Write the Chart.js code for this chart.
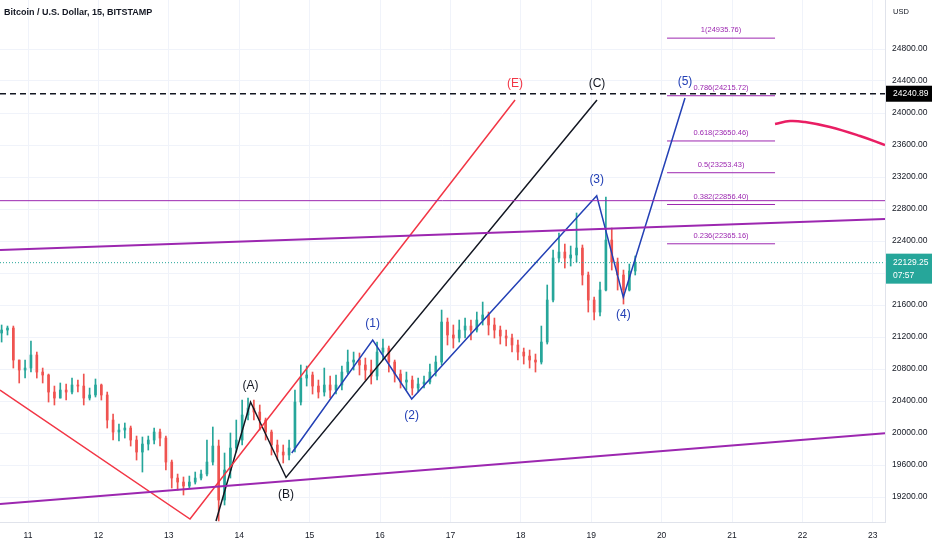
<!DOCTYPE html>
<html>
<head>
<meta charset="utf-8">
<script src="https://cdn.jsdelivr.net/npm/chart.js@4.4.0/dist/chart.umd.min.js"></script>
<style>
  html, body { margin: 0; padding: 0; background: #fff; }
</style>
</head>
<body>
<canvas id="chart" width="932" height="550"></canvas>
<script>
// --- candles (2h bars, days of Feb), open = previous close
const firstOpen = 21250;
const startDay = 10.625;
const stepDay = 1 / 12;
const closes = [21287, 21312, 20912, 20787, 20812, 20975, 20762, 20725, 20512, 20437,
  20537, 20512, 20600, 20587, 20437, 20475, 20600, 20475, 20162, 20012,
  20037, 20062, 19912, 19762, 19862, 19912, 20012, 19937, 19637, 19437,
  19387, 19337, 19387, 19437, 19487, 19637, 19837, 19162, 19537, 19812,
  19912, 20225, 20312, 20262, 20162, 20012, 19850, 19762, 19725, 19812,
  20387, 20687, 20725, 20587, 20512, 20600, 20537, 20600, 20762, 20887,
  20912, 20850, 20787, 20712, 21012, 21062, 20887, 20737, 20637, 20662,
  20562, 20612, 20637, 20762, 20887, 21387, 21225, 21187, 21287, 21337,
  21287, 21412, 21475, 21350, 21287, 21212, 21187, 21100, 21012, 20962,
  20912, 20887, 21137, 21662, 22187, 22262, 22187, 22225, 22312, 21975,
  21662, 21512, 21787, 22412, 22137, 21975, 21787, 22025, 22129.25];
const highs = [21350, 21337, 21337, 20912, 20912, 21150, 21012, 20812, 20737, 20587,
  20625, 20612, 20687, 20662, 20737, 20562, 20675, 20612, 20512, 20237,
  20112, 20125, 20087, 19962, 19950, 19962, 20062, 20050, 19962, 19662,
  19487, 19450, 19462, 19512, 19537, 19912, 20075, 19912, 19750, 20000,
  20162, 20412, 20437, 20412, 20350, 20187, 20037, 19912, 19850, 19912,
  20537, 20850, 20837, 20762, 20662, 20812, 20712, 20725, 20837, 21037,
  21012, 21000, 20937, 20912, 21137, 21175, 21087, 20912, 20787, 20762,
  20712, 20687, 20712, 20862, 20962, 21537, 21437, 21350, 21412, 21437,
  21412, 21512, 21637, 21512, 21437, 21337, 21287, 21237, 21162, 21062,
  21037, 20987, 21337, 21850, 22287, 22500, 22362, 22337, 22750, 22350,
  22012, 21700, 21887, 22950, 22562, 22187, 22037, 22112, 22212];
const lows = [21137, 21225, 20812, 20625, 20687, 20762, 20687, 20625, 20387, 20350,
  20437, 20412, 20487, 20512, 20350, 20412, 20450, 20412, 20062, 19912,
  19900, 19937, 19837, 19662, 19512, 19787, 19862, 19837, 19537, 19312,
  19287, 19225, 19312, 19362, 19412, 19462, 19600, 18900, 19100, 19437,
  19762, 19850, 20162, 20162, 20037, 19912, 19725, 19662, 19625, 19662,
  19762, 20350, 20587, 20487, 20437, 20462, 20437, 20487, 20537, 20737,
  20787, 20725, 20662, 20612, 20662, 20912, 20762, 20637, 20562, 20537,
  20475, 20512, 20562, 20612, 20712, 20850, 21100, 21062, 21137, 21187,
  21162, 21262, 21350, 21225, 21187, 21112, 21087, 21012, 20912, 20862,
  20812, 20762, 20862, 21112, 21637, 22137, 22062, 22087, 22137, 21850,
  21512, 21412, 21462, 21775, 22037, 21787, 21612, 21775, 21975];

// --- axes
const dayTicks = [11, 12, 13, 14, 15, 16, 17, 18, 19, 20, 21, 22, 23];
const priceTicks = [19200, 19600, 20000, 20400, 20800, 21200, 21600, 22000, 22400,
  22800, 23200, 23600, 24000, 24400, 24800];
const dayMin = 10.602, dayMax = 23.173;
const priceMin = 18887.5, priceMax = 25412.5;

// --- drawings (day, price)
const waveEDays = [10.602, 13.301, 17.918];
const waveEPrices = [20537, 18925, 24162];
const waveABCDays = [13.670, 14.161, 14.665, 19.082];
const waveABCPrices = [18900, 20387, 19444, 24162];
const waveABCLabels = ['', '(A)', '(B)', '(C)'];
const waveImpDays = [14.746, 15.896, 16.450, 19.078, 19.456, 20.332];
const waveImpPrices = [19750, 21162, 20425, 22966, 21696, 24187];
const waveImpLabels = ['', '(1)', '(2)', '(3)', '(4)', '(5)'];
const fibRatios = [1, 0.786, 0.618, 0.5, 0.382, 0.236];
const fibPrices = [24935.76, 24215.72, 23650.46, 23253.43, 22856.40, 22365.16];
const fibDays = [20.077, 21.611];
const resistancePrice = 22904;
const upperTrendPrices = [22287, 22675];
const lowerTrendPrices = [19112, 19996];
const targetPrice = 24240.89;
const lastPrice = 22129.25;
const countdown = '07:57';
const arcDays = [21.611, 21.824, 22.037, 22.392, 22.818, 23.173];
const arcPrices = [23862, 23900, 23887, 23825, 23712, 23600];

const UP = '#26a69a', DOWN = '#ef5350';
const RED = '#f23645', BLUE = '#2340b5', PURPLE = '#9c27b0', BLACK = '#131722';
const FONT = '"Liberation Sans", Arial, sans-serif';

const candleDays = closes.map((c, i) => startDay + i * stepDay);
const opens = closes.map((c, i) => i === 0 ? firstOpen : closes[i - 1]);
const candleColors = closes.map((c, i) => c >= opens[i] ? UP : DOWN);

function pts(days, prices) {
  return days.map((d, i) => ({x: d, y: prices[i]}));
}
function line(data, color, width, extra) {
  return Object.assign({
    type: 'line', data, borderColor: color, borderWidth: width,
    pointRadius: 0, fill: false, tension: 0, order: 0
  }, extra || {});
}

const datasets = [
  {
    type: 'bar',
    data: candleDays.map((d, i) => ({x: d, y: [lows[i], highs[i]]})),
    backgroundColor: candleColors, barThickness: 1, grouped: false, order: 10
  },
  {
    type: 'bar',
    data: candleDays.map((d, i) => ({x: d, y: [opens[i], closes[i]]})),
    backgroundColor: candleColors, barThickness: 2, minBarLength: 1, grouped: false, order: 9
  },
  line(pts([dayMin, dayMax], [lastPrice, lastPrice]), UP, 1, {borderDash: [1, 2], order: 5}),
  line(pts([dayMin, dayMax], [resistancePrice, resistancePrice]), PURPLE, 1),
  line(pts([dayMin, dayMax], upperTrendPrices), PURPLE, 2),
  line(pts([dayMin, dayMax], lowerTrendPrices), PURPLE, 2),
  line(pts(waveEDays, waveEPrices), RED, 1.5),
  line(pts(waveABCDays, waveABCPrices), BLACK, 1.5),
  line(pts(waveImpDays, waveImpPrices), BLUE, 1.5),
  line(pts([dayMin, dayMax], [targetPrice, targetPrice]), BLACK, 1.5, {borderDash: [6, 4]}),
  line(pts(arcDays, arcPrices), '#e91e63', 2.5, {tension: 0.4})
];
fibPrices.forEach(p => datasets.push(line(pts(fibDays, [p, p]), PURPLE, 1)));

// labels, fib text, price boxes, header
const overlay = {
  id: 'overlay',
  afterDatasetsDraw(chart) {
    const {ctx, scales: {x, y}} = chart;
    ctx.save();
    ctx.textAlign = 'center';
    ctx.textBaseline = 'middle';
    ctx.font = '12px ' + FONT;
    const put = (days, prices, labels, color, below) => {
      labels.forEach((t, i) => {
        if (!t) return;
        const dy = below[i] ? 17 : -16;
        ctx.fillStyle = color;
        ctx.fillText(t, x.getPixelForValue(days[i]), y.getPixelForValue(prices[i]) + dy);
      });
    };
    put(waveABCDays, waveABCPrices, waveABCLabels, BLACK, [0, 0, 1, 0]);
    put(waveImpDays, waveImpPrices, waveImpLabels, BLUE, [0, 0, 1, 0, 1, 0]);
    put(waveEDays, waveEPrices, ['', '', '(E)'], RED, [0, 0, 0]);

    ctx.font = '7.5px ' + FONT;
    ctx.fillStyle = PURPLE;
    const fx = (x.getPixelForValue(fibDays[0]) + x.getPixelForValue(fibDays[1])) / 2;
    fibPrices.forEach((p, i) => {
      ctx.fillText(fibRatios[i] + '(' + p.toFixed(2) + ')', fx, y.getPixelForValue(p) - 8);
    });
    ctx.restore();
  },
  afterDraw(chart) {
    const {ctx, chartArea, scales: {y}} = chart;
    ctx.save();
    const bx = chartArea.right + 1, bw = chart.width - bx;
    ctx.textAlign = 'left';
    ctx.textBaseline = 'middle';
    ctx.font = '8.5px ' + FONT;
    let ty = y.getPixelForValue(targetPrice);
    ctx.fillStyle = '#000';
    ctx.fillRect(bx, ty - 8, bw, 16);
    ctx.fillStyle = '#fff';
    ctx.fillText(targetPrice.toFixed(2), bx + 7, ty);
    ty = y.getPixelForValue(lastPrice);
    ctx.fillStyle = UP;
    ctx.fillRect(bx, ty - 9, bw, 30);
    ctx.fillStyle = '#fff';
    ctx.fillText(lastPrice.toFixed(2), bx + 7, ty);
    ctx.fillText(countdown, bx + 7, ty + 13);
    ctx.fillStyle = BLACK;
    ctx.font = '7.5px ' + FONT;
    ctx.fillText('USD', bx + 7, 12);
    ctx.font = '600 9px ' + FONT;
    ctx.fillText('Bitcoin / U.S. Dollar, 15, BITSTAMP', 4, 13);
    ctx.restore();
  }
};

new Chart(document.getElementById('chart'), {
  type: 'bar',
  data: {datasets},
  options: {
    responsive: false,
    animation: false,
    layout: {padding: 0},
    plugins: {legend: {display: false}, tooltip: {enabled: false}},
    scales: {
      x: {
        type: 'linear', min: dayMin, max: dayMax, offset: false,
        afterBuildTicks: s => { s.ticks = dayTicks.map(v => ({value: v})); },
        afterFit: s => { s.height = 28; s.paddingLeft = 0; s.paddingRight = 0; },
        grid: {color: '#f0f3fa', offset: false, drawTicks: false},
        border: {color: '#e0e3eb'},
        ticks: {color: BLACK, font: {family: FONT, size: 8.5}, padding: 9, maxRotation: 0,
          callback: v => String(v)}
      },
      y: {
        position: 'right', min: priceMin, max: priceMax,
        afterBuildTicks: s => { s.ticks = priceTicks.map(v => ({value: v})); },
        afterFit: s => { s.width = 47; s.paddingTop = 0; s.paddingBottom = 0; },
        grid: {color: '#f0f3fa', drawTicks: false},
        border: {color: '#e0e3eb'},
        ticks: {color: BLACK, font: {family: FONT, size: 8.5}, padding: 7,
          callback: v => Number(v).toFixed(2)}
      }
    }
  },
  plugins: [overlay]
});
</script>
</body>
</html>
